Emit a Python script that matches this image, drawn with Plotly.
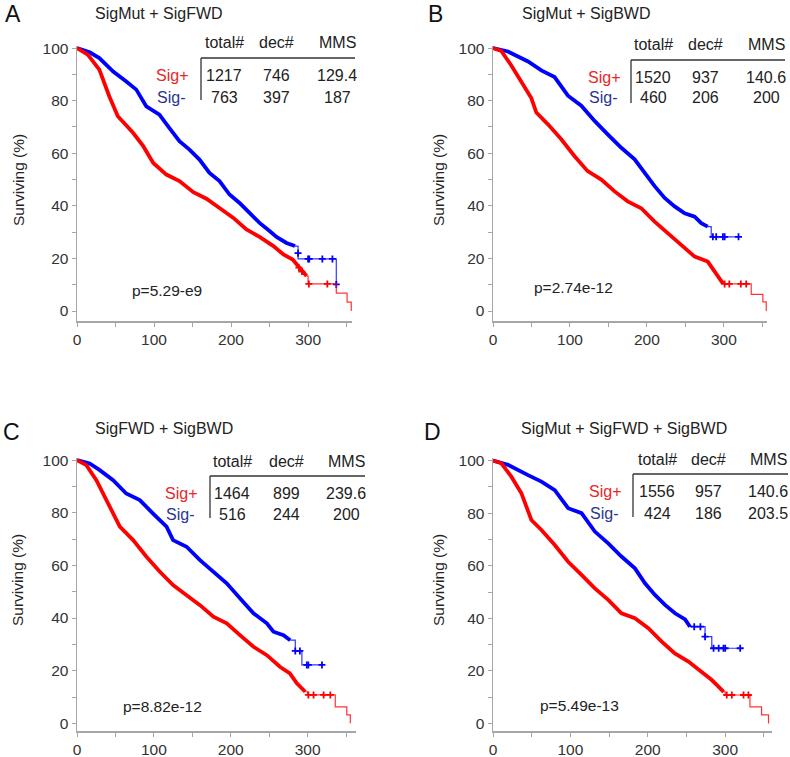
import plotly.graph_objects as go

W, H = 790, 757
RED = "#ff0000"
BLUE = "#0000ff"
RED_TXT = "#e8262a"
BLUE_TXT = "#2b3590"
AXIS_C = "#a6a6a6"
TXT_C = "#222222"
FONT = "Liberation Sans, Arial, sans-serif"

# ---------------- data ----------------
x_tick_vals = [0, 50, 100, 150, 200, 250, 300, 350]
x_tick_text = ["0", "", "100", "", "200", "", "300", ""]
y_tick_vals = [0, 10, 20, 30, 40, 50, 60, 70, 80, 90, 100]
y_tick_text = ["0", "", "20", "", "40", "", "60", "", "80", "", "100"]

table_header = ["total#", "dec#", "MMS"]
group_labels = ["Sig+", "Sig-"]

# Panel A : SigMut + SigFWD
A_title = "SigMut + SigFWD"
A_p = "p=5.29-e9"
A_rows = [["1217", "746", "129.4"], ["763", "397", "187"]]
A_pos_t = [0, 14, 29, 42, 53, 73, 86, 99, 116, 133, 151, 168, 185, 203, 220, 237, 255, 268, 280, 289, 298]
A_pos_s = [100, 97.5, 91.8, 81.6, 74.1, 67.7, 62.7, 56.3, 51.9, 49.4, 45.2, 42.7, 39.2, 35.4, 31, 28.2, 24.7, 21.5, 19.6, 16.5, 13.3]
A_pos_tail_t = [298, 300, 336.6, 350.6, 356]
A_pos_tail_s = [13.3, 10.3, 6.8, 3.4, 0]
A_pos_cens_t = [288, 292, 301, 325]
A_pos_cens_s = [16.5, 15, 10.3, 10.3]
A_neg_t = [0, 16.5, 29, 47, 64, 77, 90, 107, 120, 133, 146, 159, 172, 185, 198, 211, 224, 237, 250, 259, 272, 283]
A_neg_s = [100, 98.4, 96.2, 91.1, 87.3, 84.2, 77.8, 74.7, 69.6, 64.6, 61.4, 57.6, 52.5, 49.4, 44.3, 41.1, 37.3, 33.5, 30.4, 28.2, 25.9, 24.7]
A_neg_tail_t = [283, 287, 336.6]
A_neg_tail_s = [24.7, 19.8, 10.1]
A_neg_cens_t = [287, 300, 301.5, 318.5, 331.6, 336.6]
A_neg_cens_s = [22, 19.8, 19.8, 19.8, 19.8, 10.1]

# Panel B : SigMut + SigBWD
B_title = "SigMut + SigBWD"
B_p = "p=2.74e-12"
B_rows = [["1520", "937", "140.6"], ["460", "206", "200"]]
B_pos_t = [0, 10.8, 23.8, 36.8, 49.8, 56.3, 71.4, 88.7, 106, 123, 140.7, 158, 175, 192.6, 210, 227, 244.6, 262, 279, 288, 298.7]
B_pos_s = [100, 98.9, 93.4, 87, 81, 75.5, 71, 65.3, 58.9, 53.2, 50, 45.5, 41.7, 39.1, 34, 29.6, 25.1, 20.7, 18.8, 14.9, 10.5]
B_pos_tail_t = [298.7, 335.5, 350.6, 355]
B_pos_tail_s = [10.3, 6.3, 3.5, 0]
B_pos_cens_t = [301, 307, 322, 329]
B_pos_cens_s = [10.3, 10.3, 10.3, 10.3]
B_neg_t = [0, 19.5, 45.5, 62.8, 80, 97.4, 114.7, 132, 149, 166.7, 184, 197, 210, 223, 236, 249, 262, 270.6, 279]
B_neg_s = [100, 98.7, 94.9, 91.5, 89, 81.9, 78.1, 72.3, 67.2, 62.1, 57.7, 52.6, 47.5, 43, 39.8, 37.2, 35.9, 33.4, 32.1]
B_neg_tail_t = [279, 283.5, 319]
B_neg_tail_s = [32.1, 28.2, 28.2]
B_neg_cens_t = [285.7, 290, 298.7, 301, 319]
B_neg_cens_s = [28.2, 28.2, 28.2, 28.2, 28.2]

# Panel C : SigFWD + SigBWD
C_title = "SigFWD + SigBWD"
C_p = "p=8.82e-12"
C_rows = [["1464", "899", "239.6"], ["516", "244", "200"]]
C_pos_t = [0, 12.2, 25.2, 38.3, 47, 55.7, 73, 90.4, 107.8, 125, 142.6, 160, 177.4, 194.8, 212, 229.6, 247, 264, 277, 286, 297]
C_pos_s = [100, 98.1, 92.4, 84.8, 79.7, 74.7, 69.6, 63.3, 57.6, 52.5, 48.7, 44.9, 40.5, 38, 33.5, 29.1, 25.9, 21.5, 19, 15.2, 12]
C_pos_tail_t = [297, 300, 336, 351, 355.6]
C_pos_tail_s = [12, 10.8, 6.3, 3.2, 0]
C_pos_cens_t = [301, 307.8, 320.9, 329.6]
C_pos_cens_s = [10.8, 10.8, 10.8, 10.8]
C_neg_t = [0, 16.5, 29.6, 47, 64, 81.7, 99, 116.5, 125, 142.6, 160, 177, 194.8, 212, 229.6, 247, 255.6, 268.7, 277.4]
C_neg_s = [100, 98.7, 96.2, 92.4, 87.3, 84.8, 79.7, 74.7, 69.6, 67.1, 62, 57.6, 53.2, 47.5, 41.8, 38, 34.8, 33.5, 31.6]
C_neg_tail_t = [277.4, 284, 292.6, 318.7]
C_neg_tail_s = [31.6, 27.5, 22.2, 22.2]
C_neg_cens_t = [284, 290, 299, 301, 318.7]
C_neg_cens_s = [27.5, 27.5, 22.2, 22.2, 22.2]

# Panel D : SigMut + SigFWD + SigBWD
D_title = "SigMut + SigFWD + SigBWD"
D_p = "p=5.49e-13"
D_rows = [["1556", "957", "140.6"], ["424", "186", "203.5"]]
D_pos_t = [0, 10.8, 23.7, 36.7, 49.6, 62.6, 79.8, 97.1, 114.4, 131.6, 148.9, 166, 183.4, 200.7, 218, 235, 252.5, 269.7, 282.7, 291.3, 298]
D_pos_s = [100, 99, 93.9, 87.6, 77.4, 73.6, 67.9, 61.5, 56.5, 51.4, 47, 41.9, 40, 36.2, 31.1, 26.6, 23.5, 19.7, 16.5, 14, 12]
D_pos_tail_t = [298, 300, 332, 347, 356]
D_pos_tail_s = [12, 10.8, 6.3, 3.2, 0]
D_pos_cens_t = [302, 308.6, 323.7, 330]
D_pos_cens_s = [10.8, 10.8, 10.8, 10.8]
D_neg_t = [0, 19.4, 45.3, 62.6, 79.8, 97.1, 114.4, 131.6, 148.9, 166, 183.4, 196.4, 209.3, 222.3, 235.2, 248.2, 254.6]
D_neg_s = [100, 98.4, 94.5, 92, 88.8, 81.9, 80, 73, 68.5, 63.5, 59, 53.3, 48.9, 45.1, 41.9, 39.6, 36.8]
D_neg_tail_t = [254.6, 274, 282.7, 319.4]
D_neg_tail_s = [36.8, 33, 28.6, 28.6]
D_neg_cens_t = [260, 268, 274, 285, 291.6, 297.8, 300, 319.4]
D_neg_cens_s = [36.8, 36.8, 33, 28.6, 28.6, 28.6, 28.6, 28.6]

# ---------------- layout geometry (pixels in the 790x757 page) ----------------
panels = [
    dict(letter="A", title=A_title, p=A_p, rows=A_rows,
         pos=(A_pos_t, A_pos_s, A_pos_tail_t, A_pos_tail_s, A_pos_cens_t, A_pos_cens_s),
         neg=(A_neg_t, A_neg_s, A_neg_tail_t, A_neg_tail_s, A_neg_cens_t, A_neg_cens_s),
         box=(77, 352, 46, 321), xr=[0, 357], yr=[-3.8, 100.8],
         letter_xy=(13, 14), title_xy=(159, 13), head_y=43, row_y=(76, 97),
         cols=(224, 276, 337), lab_r=190, line_y=58, line_x=(201, 355), vline_bot=100,
         p_xy=(167, 290), ytitle_xy=(18, 180)),
    dict(letter="B", title=B_title, p=B_p, rows=B_rows,
         pos=(B_pos_t, B_pos_s, B_pos_tail_t, B_pos_tail_s, B_pos_cens_t, B_pos_cens_s),
         neg=(B_neg_t, B_neg_s, B_neg_tail_t, B_neg_tail_s, B_neg_cens_t, B_neg_cens_s),
         box=(493, 767, 46, 321), xr=[0, 356], yr=[-3.8, 100.8],
         letter_xy=(435, 14), title_xy=(586, 13), head_y=45, row_y=(77, 98),
         cols=(653, 705, 766), lab_r=622, line_y=60, line_x=(631, 785), vline_bot=103,
         p_xy=(573, 287), ytitle_xy=(438, 180)),
    dict(letter="C", title=C_title, p=C_p, rows=C_rows,
         pos=(C_pos_t, C_pos_s, C_pos_tail_t, C_pos_tail_s, C_pos_cens_t, C_pos_cens_s),
         neg=(C_neg_t, C_neg_s, C_neg_tail_t, C_neg_tail_s, C_neg_cens_t, C_neg_cens_s),
         box=(77, 356, 458, 731), xr=[0, 363], yr=[-2.9, 100.8],
         letter_xy=(11, 432), title_xy=(164, 428), head_y=461, row_y=(493, 514),
         cols=(232, 286, 346), lab_r=199, line_y=476, line_x=(210, 365), vline_bot=518,
         p_xy=(162, 706), ytitle_xy=(17, 580)),
    dict(letter="D", title=D_title, p=D_p, rows=D_rows,
         pos=(D_pos_t, D_pos_s, D_pos_tail_t, D_pos_tail_s, D_pos_cens_t, D_pos_cens_s),
         neg=(D_neg_t, D_neg_s, D_neg_tail_t, D_neg_tail_s, D_neg_cens_t, D_neg_cens_s),
         box=(493, 772, 458, 731), xr=[0, 360.5], yr=[-2.9, 101],
         letter_xy=(432, 432), title_xy=(624, 428), head_y=459, row_y=(491, 513),
         cols=(657, 708, 768), lab_r=623, line_y=474, line_x=(633, 788), vline_bot=517,
         p_xy=(579, 705), ytitle_xy=(438, 580)),
]


def px(x):
    return x / W


def py(y):
    return 1 - y / H


fig = go.Figure()
annotations = []
shapes = []
layout_axes = {}


def txt(x, y, s, size=15, color=TXT_C, xanchor="center", angle=0):
    annotations.append(dict(x=px(x), y=py(y), xref="paper", yref="paper", text=s,
                            showarrow=False, xanchor=xanchor, yanchor="middle",
                            textangle=angle, font=dict(family=FONT, size=size, color=color)))


for i, pn in enumerate(panels):
    k = "" if i == 0 else str(i + 1)
    xa, ya = "x" + k, "y" + k
    l, r, t, b = pn["box"]
    common = dict(showline=True, linecolor=AXIS_C, linewidth=1.5, ticks="outside",
                  ticklen=4, tickwidth=1, tickcolor=AXIS_C, showgrid=False,
                  zeroline=False, automargin=False, fixedrange=True,
                  tickfont=dict(family=FONT, size=15.5, color="#333333"))
    layout_axes["xaxis" + k] = dict(domain=[px(l), px(r)], range=pn["xr"], anchor=ya,
                                    tickvals=x_tick_vals, ticktext=x_tick_text, **common)
    layout_axes["yaxis" + k] = dict(domain=[py(b), py(t)], range=pn["yr"], anchor=xa,
                                    tickvals=y_tick_vals, ticktext=y_tick_text, **common)

    for grp, col in ((pn["neg"], BLUE), (pn["pos"], RED)):
        bt, bs, tt, ts, ct, cs = grp
        fig.add_trace(go.Scatter(x=tt, y=ts, xaxis=xa, yaxis=ya, mode="lines",
                                 line=dict(color=col, width=1.2, shape="hv"),
                                 opacity=0.8, showlegend=False, hoverinfo="skip"))
        fig.add_trace(go.Scatter(x=bt, y=bs, xaxis=xa, yaxis=ya, mode="lines",
                                 line=dict(color=col, width=3.8),
                                 showlegend=False, hoverinfo="skip"))
        fig.add_trace(go.Scatter(x=ct, y=cs, xaxis=xa, yaxis=ya, mode="markers",
                                 marker=dict(symbol="cross-thin", size=5,
                                             line=dict(color=col, width=1.8)),
                                 showlegend=False, hoverinfo="skip"))

    txt(pn["letter_xy"][0], pn["letter_xy"][1], pn["letter"], size=23, color="#111111")
    txt(pn["title_xy"][0], pn["title_xy"][1], pn["title"], size=16)
    for cx, h in zip(pn["cols"], table_header):
        txt(cx, pn["head_y"], h, size=16)
    txt(pn["lab_r"], pn["row_y"][0], group_labels[0], size=16, color=RED_TXT, xanchor="right")
    txt(pn["lab_r"] - 3, pn["row_y"][1], group_labels[1], size=16, color=BLUE_TXT, xanchor="right")
    for ry, row in zip(pn["row_y"], pn["rows"]):
        for cx, v in zip(pn["cols"], row):
            txt(cx, ry, v, size=16)
    txt(pn["p_xy"][0], pn["p_xy"][1], pn["p"], size=15.5)
    txt(pn["ytitle_xy"][0], pn["ytitle_xy"][1], "Surviving (%)", size=15.5, angle=-90)

    shapes.append(dict(type="line", xref="paper", yref="paper",
                       x0=px(pn["line_x"][0]), x1=px(pn["line_x"][1]),
                       y0=py(pn["line_y"]), y1=py(pn["line_y"]),
                       line=dict(color="#333333", width=1.3)))
    shapes.append(dict(type="line", xref="paper", yref="paper",
                       x0=px(pn["line_x"][0]), x1=px(pn["line_x"][0]),
                       y0=py(pn["line_y"]), y1=py(pn["vline_bot"]),
                       line=dict(color="#333333", width=1.3)))

fig.update_layout(
    width=W, height=H, margin=dict(l=0, r=0, t=0, b=0, pad=0),
    paper_bgcolor="white", plot_bgcolor="white",
    annotations=annotations, shapes=shapes, showlegend=False,
    font=dict(family=FONT),
    **layout_axes)

fig.write_html("out.html", config={"displayModeBar": False, "staticPlot": True},
               post_script="document.body.style.margin='0';document.body.style.overflow='hidden';")
